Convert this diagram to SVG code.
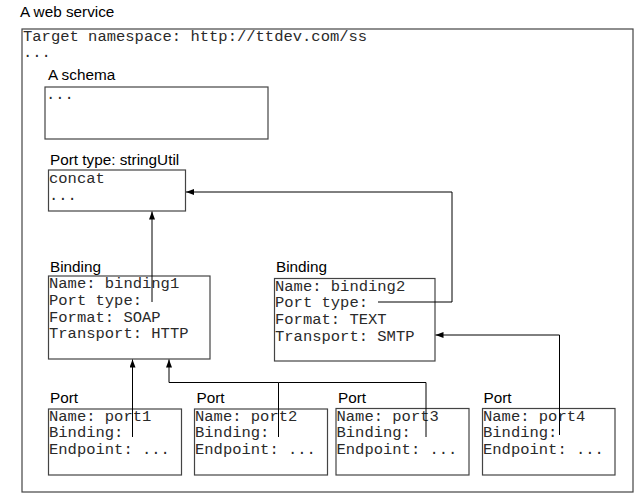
<svg xmlns="http://www.w3.org/2000/svg" width="643" height="501" viewBox="0 0 643 501">
<defs>
<style>
.lbl{font-family:"Liberation Sans",Arial,sans-serif;font-size:15.3px;fill:#000}
.mono{font-family:"Liberation Mono","Courier New",monospace;font-size:15.5px;fill:#2a2a2a}
.box{fill:#fff;stroke:#444;stroke-width:1.2}
.con{fill:none;stroke:#000;stroke-width:1}
</style>
<marker id="arr" markerUnits="userSpaceOnUse" markerWidth="9" markerHeight="7" refX="8" refY="3" orient="auto">
<path d="M0,0 L8,3 L0,6 z" fill="#000"/>
</marker>
</defs>
<rect width="643" height="501" fill="#fff"/>
<g id="service">
<text class="lbl" x="20" y="17">A web service</text>
<rect class="box" x="22" y="29" width="611" height="463"/>
<text class="mono" x="23" y="40.5">Target namespace: http://ttdev.com/ss</text>
<text class="mono" x="23" y="57.3">...</text>
</g>
<g id="schema">
<text class="lbl" x="48" y="80">A schema</text>
<rect class="box" x="45" y="87" width="223" height="52"/>
<text class="mono" x="46" y="99">...</text>
</g>
<g id="porttype">
<text class="lbl" x="50" y="164.5">Port type: stringUtil</text>
<rect class="box" x="48.5" y="170" width="137" height="41"/>
<text class="mono" x="49" y="183">concat</text>
<text class="mono" x="49" y="199.8">...</text>
</g>
<g id="binding1">
<text class="lbl" x="50" y="272">Binding</text>
<rect class="box" x="48.5" y="276" width="161.5" height="83"/>
<text class="mono" x="49" y="288">Name: binding1</text>
<text class="mono" x="49" y="304.8">Port type:</text>
<text class="mono" x="49" y="321.6">Format: SOAP</text>
<text class="mono" x="49" y="338.4">Transport: HTTP</text>
</g>
<g id="binding2">
<text class="lbl" x="276" y="272">Binding</text>
<rect class="box" x="274.5" y="278.5" width="160.5" height="82.5"/>
<text class="mono" x="275" y="290.5">Name: binding2</text>
<text class="mono" x="275" y="307.3">Port type:</text>
<text class="mono" x="275" y="324.1">Format: TEXT</text>
<text class="mono" x="275" y="340.9">Transport: SMTP</text>
</g>
<g id="port1">
<text class="lbl" x="50" y="403">Port</text>
<rect class="box" x="48.5" y="409" width="133" height="66"/>
<text class="mono" x="49" y="420.5">Name: port1</text>
<text class="mono" x="49" y="437.3">Binding:</text>
<text class="mono" x="49" y="454.1">Endpoint: ...</text>
</g>
<g id="port2">
<text class="lbl" x="196.5" y="403">Port</text>
<rect class="box" x="194.5" y="409" width="133" height="66"/>
<text class="mono" x="195" y="420.5">Name: port2</text>
<text class="mono" x="195" y="437.3">Binding:</text>
<text class="mono" x="195" y="454.1">Endpoint: ...</text>
</g>
<g id="port3">
<text class="lbl" x="338" y="403">Port</text>
<rect class="box" x="336" y="408.5" width="133" height="66.5"/>
<text class="mono" x="336.5" y="420.5">Name: port3</text>
<text class="mono" x="336.5" y="437.3">Binding:</text>
<text class="mono" x="336.5" y="454.1">Endpoint: ...</text>
</g>
<g id="port4">
<text class="lbl" x="483.5" y="403">Port</text>
<rect class="box" x="482.5" y="408.5" width="132.5" height="66.5"/>
<text class="mono" x="483" y="420.5">Name: port4</text>
<text class="mono" x="483" y="437.3">Binding:</text>
<text class="mono" x="483" y="454.1">Endpoint: ...</text>
</g>
<g id="connectors">
<path class="con" d="M152,302 V211.5" marker-end="url(#arr)"/>
<path class="con" d="M378,302 H452 V192 H186" marker-end="url(#arr)"/>
<path class="con" d="M132.5,437 V359.5" marker-end="url(#arr)"/>
<path class="con" d="M278.5,437 V382.5 H169 V359.5" marker-end="url(#arr)"/>
<path class="con" d="M426,437 V382.5 H278.5"/>
<path class="con" d="M559.5,435 V335 H435.5" marker-end="url(#arr)"/>
</g>
</svg>
